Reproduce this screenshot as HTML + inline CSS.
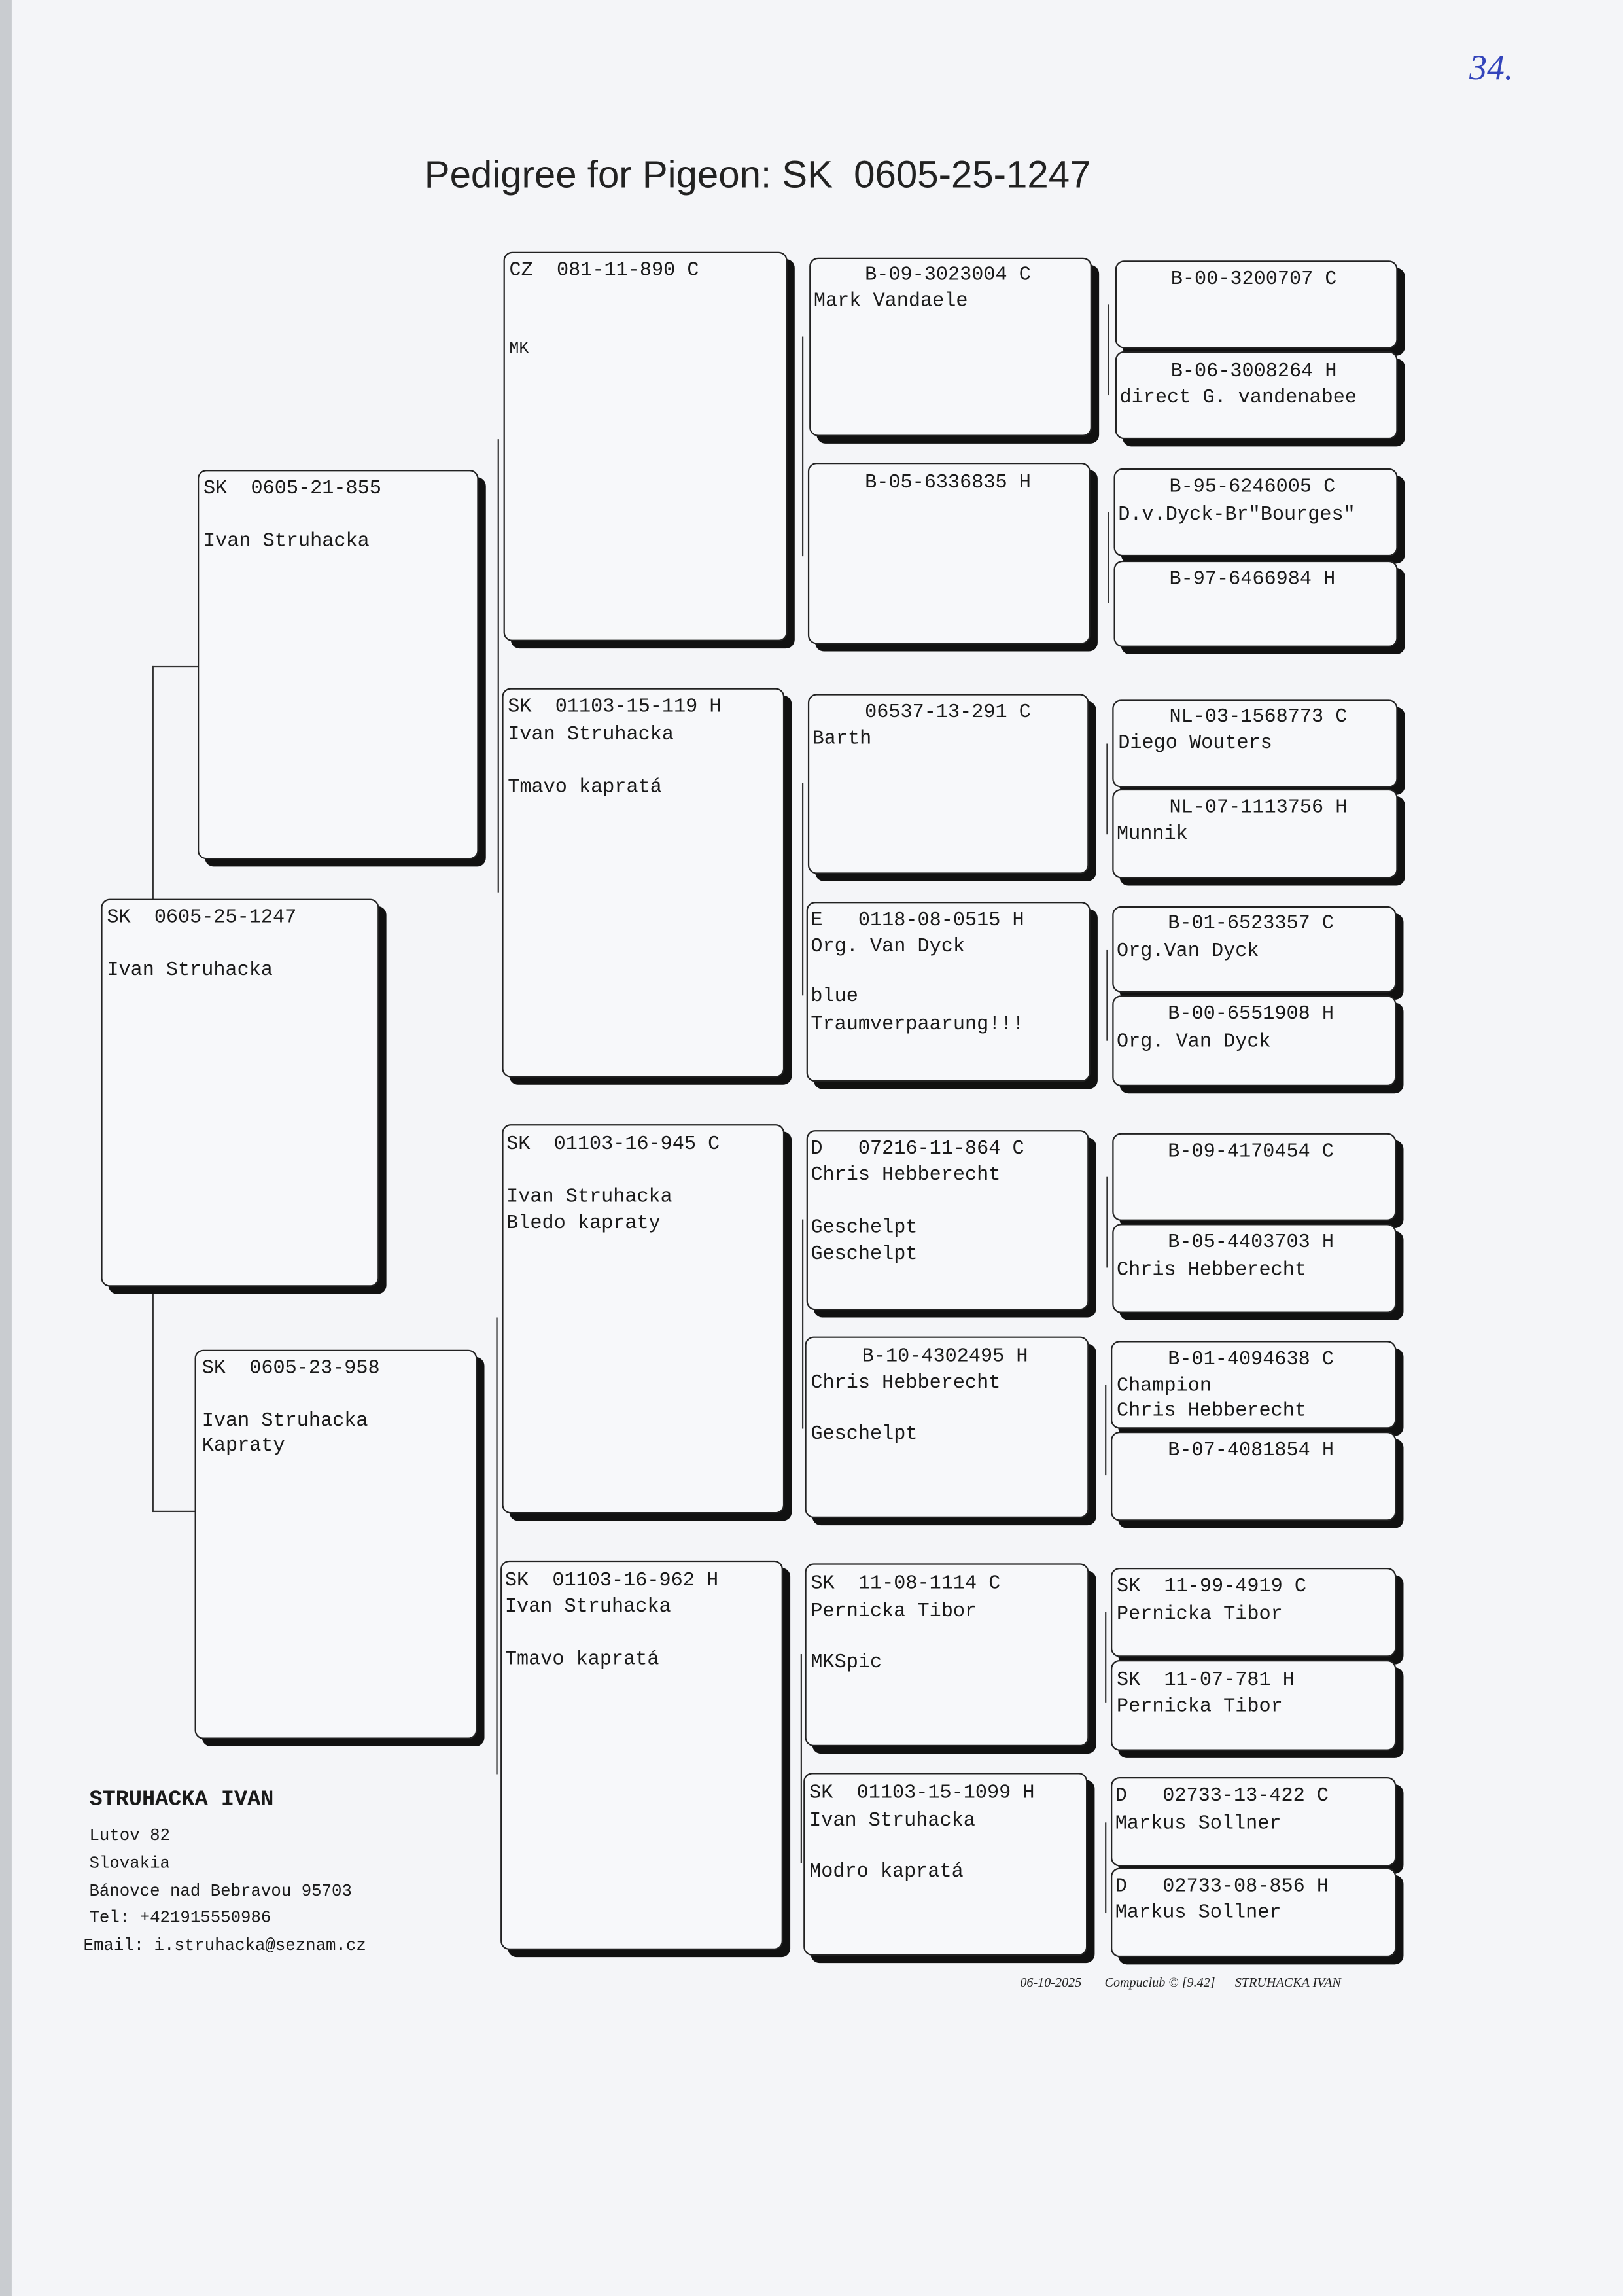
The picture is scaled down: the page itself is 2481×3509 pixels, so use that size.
<!DOCTYPE html>
<html><head><meta charset="utf-8"><style>
html,body{margin:0;padding:0;background:#f4f5f8;}
#wrap{position:relative;width:2481px;height:3509px;overflow:hidden;background:#f4f5f8;}
#pg{position:absolute;left:0;top:0;width:1109px;height:1569px;transform:scale(2.2372);transform-origin:0 0;}
.b{position:absolute;border:1px solid #222;border-radius:6px;background:#f7f8fa;box-shadow:5px 5px 0 #111;box-sizing:border-box;}
.t{position:absolute;font-family:"Liberation Mono",monospace;font-size:13.5px;line-height:14px;color:#1a1a1a;white-space:pre;margin-top:2px;}
.l{position:absolute;background:#333;}
</style></head><body><div id="wrap"><div id="pg">
<div style="position:absolute;left:0;top:0;width:8px;height:1569px;background:#c9ccd0"></div>
<div style="position:absolute;left:290px;top:104px;font-family:'Liberation Sans',sans-serif;font-size:26px;color:#222;white-space:pre">Pedigree for Pigeon: SK  0605-25-1247</div>
<div style="position:absolute;left:1004px;top:34px;font-family:'Liberation Serif',serif;font-style:italic;font-size:24px;color:#3344bb">34.</div>

<!-- connectors -->
<div class="l" style="left:104px;top:455px;width:1px;height:578px"></div>
<div class="l" style="left:104px;top:455px;width:31px;height:1px"></div>
<div class="l" style="left:104px;top:1032px;width:31px;height:1px"></div>
<div class="l" style="left:340px;top:300px;width:1px;height:310px"></div>
<div class="l" style="left:339px;top:900px;width:1px;height:312px"></div>
<div class="l" style="left:548px;top:230px;width:1px;height:150px"></div>
<div class="l" style="left:548px;top:535px;width:1px;height:145px"></div>
<div class="l" style="left:548px;top:833px;width:1px;height:143px"></div>
<div class="l" style="left:547px;top:1130px;width:1px;height:143px"></div>
<div class="l" style="left:757px;top:208px;width:1px;height:62px"></div>
<div class="l" style="left:757px;top:350px;width:1px;height:62px"></div>
<div class="l" style="left:756px;top:508px;width:1px;height:62px"></div>
<div class="l" style="left:756px;top:649px;width:1px;height:62px"></div>
<div class="l" style="left:756px;top:804px;width:1px;height:62px"></div>
<div class="l" style="left:755px;top:946px;width:1px;height:62px"></div>
<div class="l" style="left:755px;top:1101px;width:1px;height:62px"></div>
<div class="l" style="left:755px;top:1245px;width:1px;height:62px"></div>

<!-- boxes -->
<div class="b" style="left:69px;top:614px;width:190px;height:265px"></div>
<div class="b" style="left:135px;top:321px;width:192px;height:266px"></div>
<div class="b" style="left:133px;top:922px;width:193px;height:266px"></div>
<div class="b" style="left:344px;top:172px;width:194px;height:266px"></div>
<div class="b" style="left:343px;top:470px;width:193px;height:266px"></div>
<div class="b" style="left:343px;top:768px;width:193px;height:266px"></div>
<div class="b" style="left:342px;top:1066px;width:193px;height:266px"></div>
<div class="b" style="left:553px;top:176px;width:193px;height:122px"></div>
<div class="b" style="left:552px;top:316px;width:193px;height:124px"></div>
<div class="b" style="left:552px;top:474px;width:192px;height:123px"></div>
<div class="b" style="left:551px;top:616px;width:194px;height:123px"></div>
<div class="b" style="left:551px;top:772px;width:193px;height:123px"></div>
<div class="b" style="left:550px;top:913px;width:194px;height:124px"></div>
<div class="b" style="left:550px;top:1068px;width:194px;height:125px"></div>
<div class="b" style="left:549px;top:1211px;width:194px;height:125px"></div>
<div class="b" style="left:762px;top:178px;width:193px;height:60px"></div>
<div class="b" style="left:762px;top:240px;width:193px;height:60px"></div>
<div class="b" style="left:761px;top:320px;width:194px;height:60px"></div>
<div class="b" style="left:761px;top:383px;width:194px;height:59px"></div>
<div class="b" style="left:760px;top:478px;width:195px;height:60px"></div>
<div class="b" style="left:760px;top:539px;width:195px;height:61px"></div>
<div class="b" style="left:760px;top:619px;width:194px;height:59px"></div>
<div class="b" style="left:760px;top:680px;width:194px;height:62px"></div>
<div class="b" style="left:760px;top:774px;width:194px;height:60px"></div>
<div class="b" style="left:760px;top:836px;width:194px;height:61px"></div>
<div class="b" style="left:759px;top:916px;width:195px;height:60px"></div>
<div class="b" style="left:759px;top:978px;width:195px;height:61px"></div>
<div class="b" style="left:759px;top:1071px;width:195px;height:61px"></div>
<div class="b" style="left:759px;top:1134px;width:195px;height:62px"></div>
<div class="b" style="left:759px;top:1214px;width:195px;height:61px"></div>
<div class="b" style="left:759px;top:1276px;width:195px;height:61px"></div>

<!-- gen1/2 text -->
<div class="t" style="left:73px;top:619px">SK  0605-25-1247</div>
<div class="t" style="left:73px;top:655px">Ivan Struhacka</div>
<div class="t" style="left:139px;top:326px">SK  0605-21-855</div>
<div class="t" style="left:139px;top:362px">Ivan Struhacka</div>
<div class="t" style="left:138px;top:927px">SK  0605-23-958</div>
<div class="t" style="left:138px;top:963px">Ivan Struhacka</div>
<div class="t" style="left:138px;top:980px">Kapraty</div>
<!-- gen3 -->
<div class="t" style="left:348px;top:177px">CZ  081-11-890 C</div>
<div class="t" style="left:348px;top:230px;font-size:11px">MK</div>
<div class="t" style="left:347px;top:475px">SK  01103-15-119 H</div>
<div class="t" style="left:347px;top:494px">Ivan Struhacka</div>
<div class="t" style="left:347px;top:530px">Tmavo kapratá</div>
<div class="t" style="left:346px;top:774px">SK  01103-16-945 C</div>
<div class="t" style="left:346px;top:810px">Ivan Struhacka</div>
<div class="t" style="left:346px;top:828px">Bledo kapraty</div>
<div class="t" style="left:345px;top:1072px">SK  01103-16-962 H</div>
<div class="t" style="left:345px;top:1090px">Ivan Struhacka</div>
<div class="t" style="left:345px;top:1126px">Tmavo kapratá</div>
<!-- gen4 -->
<div class="t" style="left:591px;top:180px">B-09-3023004 C</div>
<div class="t" style="left:556px;top:198px">Mark Vandaele</div>
<div class="t" style="left:591px;top:322px">B-05-6336835 H</div>
<div class="t" style="left:591px;top:479px">06537-13-291 C</div>
<div class="t" style="left:555px;top:497px">Barth</div>
<div class="t" style="left:554px;top:621px">E   0118-08-0515 H</div>
<div class="t" style="left:554px;top:639px">Org. Van Dyck</div>
<div class="t" style="left:554px;top:673px">blue</div>
<div class="t" style="left:554px;top:692px">Traumverpaarung!!!</div>
<div class="t" style="left:554px;top:777px">D   07216-11-864 C</div>
<div class="t" style="left:554px;top:795px">Chris Hebberecht</div>
<div class="t" style="left:554px;top:831px">Geschelpt</div>
<div class="t" style="left:554px;top:849px">Geschelpt</div>
<div class="t" style="left:589px;top:919px">B-10-4302495 H</div>
<div class="t" style="left:554px;top:937px">Chris Hebberecht</div>
<div class="t" style="left:554px;top:972px">Geschelpt</div>
<div class="t" style="left:554px;top:1074px">SK  11-08-1114 C</div>
<div class="t" style="left:554px;top:1093px">Pernicka Tibor</div>
<div class="t" style="left:554px;top:1128px">MKSpic</div>
<div class="t" style="left:553px;top:1217px">SK  01103-15-1099 H</div>
<div class="t" style="left:553px;top:1236px">Ivan Struhacka</div>
<div class="t" style="left:553px;top:1271px">Modro kapratá</div>
<!-- gen5 -->
<div class="t" style="left:800px;top:183px">B-00-3200707 C</div>
<div class="t" style="left:800px;top:246px">B-06-3008264 H</div>
<div class="t" style="left:765px;top:264px">direct G. vandenabee</div>
<div class="t" style="left:799px;top:325px">B-95-6246005 C</div>
<div class="t" style="left:764px;top:344px">D.v.Dyck-Br"Bourges"</div>
<div class="t" style="left:799px;top:388px">B-97-6466984 H</div>
<div class="t" style="left:799px;top:482px">NL-03-1568773 C</div>
<div class="t" style="left:764px;top:500px">Diego Wouters</div>
<div class="t" style="left:799px;top:544px">NL-07-1113756 H</div>
<div class="t" style="left:763px;top:562px">Munnik</div>
<div class="t" style="left:798px;top:623px">B-01-6523357 C</div>
<div class="t" style="left:763px;top:642px">Org.Van Dyck</div>
<div class="t" style="left:798px;top:685px">B-00-6551908 H</div>
<div class="t" style="left:763px;top:704px">Org. Van Dyck</div>
<div class="t" style="left:798px;top:779px">B-09-4170454 C</div>
<div class="t" style="left:798px;top:841px">B-05-4403703 H</div>
<div class="t" style="left:763px;top:860px">Chris Hebberecht</div>
<div class="t" style="left:798px;top:921px">B-01-4094638 C</div>
<div class="t" style="left:763px;top:939px">Champion</div>
<div class="t" style="left:763px;top:956px">Chris Hebberecht</div>
<div class="t" style="left:798px;top:983px">B-07-4081854 H</div>
<div class="t" style="left:763px;top:1076px">SK  11-99-4919 C</div>
<div class="t" style="left:763px;top:1095px">Pernicka Tibor</div>
<div class="t" style="left:763px;top:1140px">SK  11-07-781 H</div>
<div class="t" style="left:763px;top:1158px">Pernicka Tibor</div>
<div class="t" style="left:762px;top:1219px">D   02733-13-422 C</div>
<div class="t" style="left:762px;top:1238px">Markus Sollner</div>
<div class="t" style="left:762px;top:1281px">D   02733-08-856 H</div>
<div class="t" style="left:762px;top:1299px">Markus Sollner</div>

<!-- footer -->
<div class="t" style="left:61px;top:1221px;font-size:15px;font-weight:bold">STRUHACKA IVAN</div>
<div class="t" style="left:61px;top:1246px;font-size:11.5px">Lutov 82</div>
<div class="t" style="left:61px;top:1265px;font-size:11.5px">Slovakia</div>
<div class="t" style="left:61px;top:1284px;font-size:11.5px">Bánovce nad Bebravou 95703</div>
<div class="t" style="left:61px;top:1302px;font-size:11.5px">Tel: +421915550986</div>
<div class="t" style="left:57px;top:1321px;font-size:11.5px">Email: i.struhacka@seznam.cz</div>
<div style="position:absolute;left:697px;top:1349px;font-family:'Liberation Serif',serif;font-style:italic;font-size:9px;color:#222;white-space:pre">06-10-2025       Compuclub © [9.42]      STRUHACKA IVAN</div>
</div></div></body></html>
